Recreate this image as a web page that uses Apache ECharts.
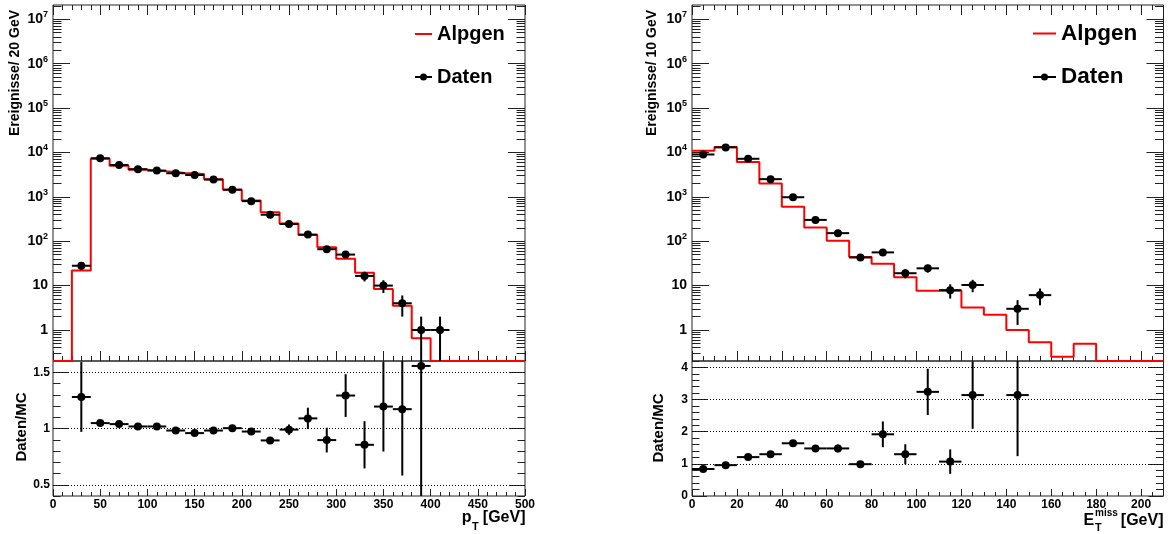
<!DOCTYPE html>
<html>
<head>
<meta charset="utf-8">
<title>Alpgen / Daten</title>
<script src="https://cdn.jsdelivr.net/npm/echarts@6/dist/echarts.min.js"></script>
<style>
  html, body { margin: 0; padding: 0; background: #fff; }
  #main { width: 1174px; height: 534px; }
</style>
</head>
<body>
<div id="main"></div>
<script>
// ---- Werte ----
// links: p_T, Bins zu 20 GeV
var ptEdges = [0, 20, 40, 60, 80, 100, 120, 140, 160, 180, 200, 220, 240, 260, 280, 300, 320, 340, 360, 380, 400, 420, 440, 460, 480, 500];
var ptAlpgen = [0, 22, 7200, 5000, 4100, 3750, 3450, 3250, 2500, 1450, 830, 450, 250, 138, 73, 40, 19.5, 8.4, 3.5, 0.65, 0, 0, 0, 0, 0];
var ptDatenX = [30, 50, 70, 90, 110, 130, 150, 170, 190, 210, 230, 250, 270, 290, 310, 330, 350, 370, 390, 410];
var ptDaten = [28, 7400, 5200, 4200, 3900, 3400, 3100, 2450, 1450, 800, 395, 245, 141, 66, 50, 16.5, 10, 4, 1, 1];
var ptDatenErr = [5.3, 86, 72, 65, 62, 58, 56, 49, 38, 28, 20, 16, 12, 8.1, 7.1, 4.1, 3.2, 2, 1, 1];
var ptRatioX = [30, 50, 70, 90, 110, 130, 150, 170, 190, 210, 230, 250, 270, 290, 310, 330, 350, 370, 390];
var ptRatio = [1.28, 1.048, 1.039, 1.018, 1.018, 0.982, 0.959, 0.982, 1.003, 0.973, 0.894, 0.99, 1.09, 0.897, 1.293, 0.855, 1.195, 1.172, 1.556];
var ptRatioErr = [0.31, 0.01, 0.01, 0.01, 0.01, 0.01, 0.01, 0.015, 0.015, 0.02, 0.03, 0.045, 0.095, 0.11, 0.19, 0.21, 0.4, 0.59, 1.2];

// rechts: E_T^miss, Bins zu 10 GeV
var metEdges = [0, 10, 20, 30, 40, 50, 60, 70, 80, 90, 100, 110, 120, 130, 140, 150, 160, 170, 180, 190, 200, 210];
var metAlpgen = [10900, 13200, 6100, 1990, 600, 205, 102, 44, 31, 15.4, 7.7, 7.7, 3.2, 2.2, 1.0, 0.53, 0.25, 0.49, 0, 0, 0];
var metDatenX = [5, 15, 25, 35, 45, 55, 65, 75, 85, 95, 105, 115, 125, 145, 155];
var metDaten = [9000, 13000, 7200, 2500, 980, 302, 152, 43, 56, 19, 24.5, 7.9, 10.3, 3, 6.1];
var metDatenErr = [95, 114, 85, 50, 31, 17, 12.3, 6.6, 7.5, 4.4, 4.9, 2.8, 3.2, 1.7, 2.5];
var metRatioX = [5, 15, 25, 35, 45, 55, 65, 75, 85, 95, 105, 115, 125, 145];
var metRatio = [0.84, 0.96, 1.21, 1.30, 1.64, 1.48, 1.48, 0.99, 1.92, 1.30, 3.24, 1.07, 3.14, 3.14];
var metRatioErr = [0.01, 0.01, 0.02, 0.03, 0.06, 0.09, 0.12, 0.1, 0.4, 0.31, 0.72, 0.38, 1.05, 1.9];

// Achsenbeschriftung
var ptTicks = [0, 50, 100, 150, 200, 250, 300, 350, 400, 450, 500];
var metTicks = [0, 20, 40, 60, 80, 100, 120, 140, 160, 180, 200];
var logTicks = [0, 1, 2, 3, 4, 5, 6, 7];
var logTickLabels = ['1', '10', '10^2', '10^3', '10^4', '10^5', '10^6', '10^7'];
var ptRatioTicks = [0.5, 1, 1.5];
var metRatioTicks = [0, 1, 2, 3, 4];

var LOG_MIN = Math.log10(0.2), LOG_MAX = Math.log10(2.1e7);
var FONT = "'Liberation Sans', Arial, Helvetica, sans-serif";

function toLog(v) { return v > 0 ? Math.log10(v) : LOG_MIN; }

function minorsBetween(min, max, step, majors) {
  var out = [];
  for (var v = min; v <= max + 1e-9; v += step) {
    var r = Math.round(v * 1000) / 1000;
    if (majors.indexOf(r) < 0) out.push(r);
  }
  return out;
}
function logMinors() {
  var out = [];
  for (var n = -1; n <= 7; n++) {
    for (var k = 2; k <= 9; k++) {
      var v = Math.log10(k * Math.pow(10, n));
      if (v > LOG_MIN && v < LOG_MAX) out.push(v);
    }
  }
  return out;
}

var tickColor = '#222';
var xAxes = [], yAxes = [];

function addAxes(list, gridIndex, range, majors, minors, lens, sides, label) {
  var first = list.length;
  sides.forEach(function (side, s) {
    [[majors, lens[0]], [minors, lens[1]]].forEach(function (t, k) {
      var withLabel = label && s === 0 && k === 0;
      list.push({
        type: 'value', gridIndex: gridIndex, position: side,
        min: range[0], max: range[1],
        axisLine: { show: false, onZero: false },
        splitLine: { show: false },
        axisTick: { show: true, inside: true, length: t[1], customValues: t[0],
                    lineStyle: { color: tickColor, width: 1 } },
        axisLabel: withLabel ? Object.assign({ show: true, customValues: majors }, label) : { show: false }
      });
    });
  });
  return first;
}

var numLabel = { color: '#000', fontFamily: FONT, fontWeight: 'bold', fontSize: 12 };
var logLabel = {
  margin: 5,
  formatter: function (v) {
    var s = logTickLabels[Math.round(v)];
    var p = s.split('^');
    return p.length > 1 ? '{b|' + p[0] + '}{e|' + p[1] + '}' : '{b|' + s + '}';
  },
  rich: {
    b: { color: '#000', fontFamily: FONT, fontWeight: 'bold', fontSize: 14, lineHeight: 18 },
    e: { color: '#000', fontFamily: FONT, fontWeight: 'bold', fontSize: 9, verticalAlign: 'top', lineHeight: 10 }
  }
};

var ptRange = [0, 500], metRange = [0, 210];
var ptMinors = minorsBetween(0, 500, 10, ptTicks);
var metMinors = minorsBetween(0, 210, 5, metTicks);

// Gitter 0: p_T oben, 1: p_T Verhaeltnis, 2: MET oben, 3: MET Verhaeltnis
var gx = [
  addAxes(xAxes, 0, ptRange, ptTicks, ptMinors, [10, 5], ['bottom', 'top'], null),
  addAxes(xAxes, 1, ptRange, ptTicks, ptMinors, [7, 4], ['bottom'], Object.assign({ margin: 3 }, numLabel)),
  addAxes(xAxes, 2, metRange, metTicks, metMinors, [10, 5], ['bottom', 'top'], null),
  addAxes(xAxes, 3, metRange, metTicks, metMinors, [7, 4], ['bottom'], Object.assign({ margin: 3 }, numLabel))
];
var gy = [
  addAxes(yAxes, 0, [LOG_MIN, LOG_MAX], logTicks, logMinors(), [17, 8.5], ['left', 'right'], logLabel),
  addAxes(yAxes, 1, [0.4, 1.6], ptRatioTicks, minorsBetween(0.4, 1.6, 0.1, ptRatioTicks), [15, 7.5], ['left', 'right'],
          Object.assign({ margin: 3 }, numLabel)),
  addAxes(yAxes, 2, [LOG_MIN, LOG_MAX], logTicks, logMinors(), [17, 8.5], ['left', 'right'], logLabel),
  addAxes(yAxes, 3, [0, 4.2], metRatioTicks, minorsBetween(0, 4.2, 0.2, metRatioTicks), [15, 7.5], ['left', 'right'],
          Object.assign({ margin: 4 }, numLabel))
];

function renderErr(params, api) {
  var lo = api.coord([api.value(0), api.value(1)]);
  var hi = api.coord([api.value(0), api.value(2)]);
  var l = api.coord([api.value(3), api.value(5)]);
  var r = api.coord([api.value(4), api.value(5)]);
  var st = { stroke: '#000', lineWidth: 2 };
  return { type: 'group', children: [
    { type: 'line', shape: { x1: lo[0], y1: lo[1], x2: hi[0], y2: hi[1] }, style: st },
    { type: 'line', shape: { x1: l[0], y1: l[1], x2: r[0], y2: r[1] }, style: st }
  ] };
}

function histSeries(g, edges, vals) {
  var pts = vals.map(function (v, i) { return [edges[i], toLog(v)]; });
  pts.push([edges[edges.length - 1], toLog(vals[vals.length - 1])]);
  return { type: 'line', name: 'Alpgen', xAxisIndex: gx[g], yAxisIndex: gy[g], data: pts,
           step: 'end', symbol: 'none', clip: true, silent: true, z: 2,
           lineStyle: { color: '#ff0000', width: 2 }, itemStyle: { color: '#ff0000' } };
}

function pointSeries(g, xs, ys, errs, half, logScale, lines) {
  var f = logScale ? toLog : function (v) { return v; };
  var errData = xs.map(function (x, i) {
    var lo = ys[i] - errs[i];
    var loV = logScale ? (lo > 0 ? Math.log10(lo) : LOG_MIN - 1) : lo;
    return [x, loV, f(ys[i] + errs[i]), x - half, x + half, f(ys[i])];
  });
  var pts = xs.map(function (x, i) { return [x, f(ys[i])]; });
  var sc = { type: 'scatter', name: 'Daten', xAxisIndex: gx[g], yAxisIndex: gy[g], data: pts,
             symbol: 'circle', symbolSize: 8, itemStyle: { color: '#000', opacity: 1 },
             clip: true, silent: true, z: 4 };
  if (lines) {
    sc.markLine = { silent: true, symbol: ['none', 'none'], label: { show: false },
                    lineStyle: { color: '#000', width: 1, type: [1, 2], opacity: 1 },
                    data: lines.map(function (v) { return { yAxis: v }; }) };
  }
  return [
    { type: 'custom', name: 'Fehler', xAxisIndex: gx[g], yAxisIndex: gy[g], data: errData,
      renderItem: renderErr, clip: true, silent: true, z: 3, encode: { x: 0, y: 5 } },
    sc
  ];
}

var ptHalf = (ptEdges[1] - ptEdges[0]) / 2, metHalf = (metEdges[1] - metEdges[0]) / 2;

var series = [].concat(
  [histSeries(0, ptEdges, ptAlpgen)],
  pointSeries(0, ptDatenX, ptDaten, ptDatenErr, ptHalf, true, null),
  pointSeries(1, ptRatioX, ptRatio, ptRatioErr, ptHalf, false, ptRatioTicks),
  [histSeries(2, metEdges, metAlpgen)],
  pointSeries(2, metDatenX, metDaten, metDatenErr, metHalf, true, null),
  pointSeries(3, metRatioX, metRatio, metRatioErr, metHalf, false, metRatioTicks.slice(1))
);

function dotIcon(w) {
  var c = w / 2;
  return 'path://M0,2.5H' + w + 'V4.5H0Z M' + c + ',0A3.5,3.5 0 1,1 ' + c + ',7A3.5,3.5 0 1,1 ' + c + ',0Z';
}
function legendItem(name, icon, color, left, top, w, h, size) {
  return { data: [{ name: name, icon: icon, itemStyle: { color: color, borderWidth: 0, opacity: 1 } }],
           left: left, top: top, itemWidth: w, itemHeight: h, padding: 0, selectedMode: false,
           textStyle: { color: '#000', fontFamily: FONT, fontWeight: 'bold', fontSize: size } };
}

function txt(x, y, text, size, align, rot, valign) {
  return { type: 'text', x: x, y: y, rotation: rot || 0, silent: true,
           style: { text: text, fill: '#000', font: 'bold ' + size + 'px ' + FONT,
                    textAlign: align, align: align,
                    textVerticalAlign: valign || 'middle', verticalAlign: valign || 'middle' } };
}

var gridBox = { show: true, borderColor: '#222', borderWidth: 1, backgroundColor: 'transparent' };

var option = {
  animation: false,
  grid: [
    Object.assign({ left: 53, top: 5, width: 472, height: 356 }, gridBox),
    Object.assign({ left: 53, top: 361, width: 472, height: 135 }, gridBox),
    Object.assign({ left: 692, top: 5, width: 471.5, height: 356 }, gridBox),
    Object.assign({ left: 692, top: 361, width: 471.5, height: 135 }, gridBox)
  ],
  xAxis: xAxes,
  yAxis: yAxes,
  legend: [
    legendItem('Alpgen', 'rect', '#ff0000', 415, 24, 17, 2, 20),
    legendItem('Daten', dotIcon(17), '#000', 415, 67, 17, 7, 20),
    legendItem('Alpgen', 'rect', '#ff0000', 1033, 22, 23, 2, 22.5),
    legendItem('Daten', dotIcon(23), '#000', 1033, 65.5, 23, 7, 22.5)
  ],
  graphic: [
    txt(15, 10, 'Ereignisse/ 20 GeV', 14, 'right', Math.PI / 2),
    txt(21.5, 427, 'Daten/MC', 15, 'center', Math.PI / 2),
    txt(652.5, 10, 'Ereignisse/ 10 GeV', 14, 'right', Math.PI / 2),
    txt(659, 428, 'Daten/MC', 15, 'center', Math.PI / 2),
    // p_T [GeV]
    txt(525.5, 518, '[GeV]', 16, 'right'),
    txt(472, 527, 'T', 11, 'left'),
    txt(471.5, 518, 'p', 16, 'right'),
    // E_T^miss [GeV]
    txt(1163.5, 521, '[GeV]', 16, 'right'),
    txt(1083.5, 521, 'E', 16, 'left'),
    txt(1095, 513, 'miss', 10, 'left'),
    txt(1095, 528, 'T', 11, 'left')
  ],
  series: series
};

var chart = echarts.init(document.getElementById('main'));
chart.setOption(option);
</script>
</body>
</html>
